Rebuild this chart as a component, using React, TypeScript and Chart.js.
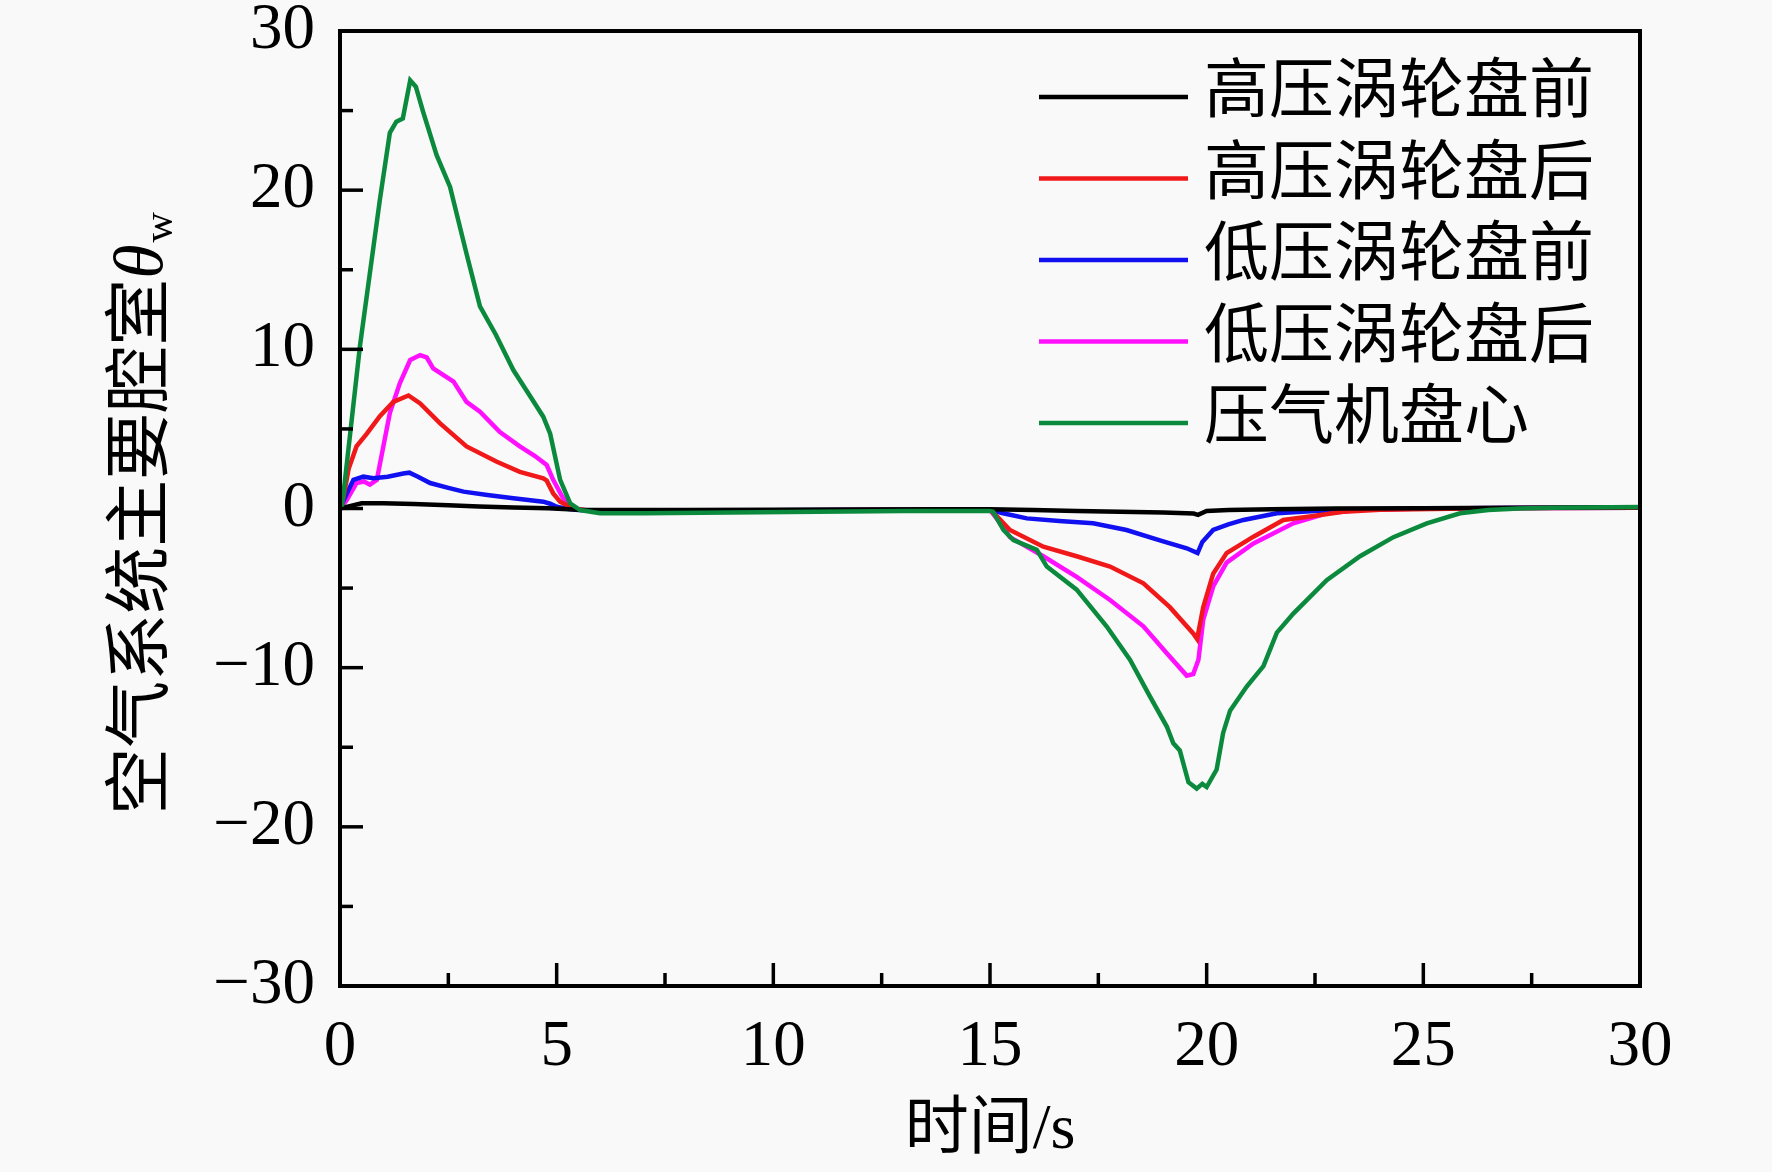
import React, { useEffect, useRef } from 'react';
import { Chart, registerables } from 'chart.js';

Chart.register(...registerables);

// ---------- data ----------
const X_MIN = 0;
const X_MAX = 30;
const X_STEP = 5;
const Y_MIN = -30;
const Y_MAX = 30;
const Y_STEP = 10;

const X_TITLE = '时间/s';
const Y_TITLE_MAIN = '空气系统主要腔室';
const Y_TITLE_SYMBOL = 'θ';
const Y_TITLE_SUB = 'w';

const SERIES_LABELS = ['高压涡轮盘前', '高压涡轮盘后', '低压涡轮盘前', '低压涡轮盘后', '压气机盘心'];

const tHpFront = [0, 0.15, 0.5, 1.0, 1.7, 2.5, 3.2, 4.0, 4.8, 5.5, 6.5, 8, 10, 12, 14, 15, 16, 17, 18, 19, 19.7, 19.8, 20.0, 20.5, 21.5, 23, 25, 27, 30];
const vHpFront = [0, 0.1, 0.33, 0.33, 0.28, 0.2, 0.12, 0.06, 0.01, -0.08, -0.1, -0.1, -0.08, -0.07, -0.05, -0.05, -0.1, -0.15, -0.2, -0.25, -0.32, -0.4, -0.15, -0.1, -0.05, 0, 0.02, 0.05, 0.08];

const tHpRear = [0, 0.08, 0.2, 0.38, 0.62, 0.92, 1.23, 1.58, 1.85, 2.31, 2.92, 3.62, 4.15, 4.69, 4.77, 4.92, 5.08, 5.38, 5.8, 6.5, 8, 10, 12, 14, 15, 15.2, 15.46, 16.23, 17.0, 17.77, 18.54, 19.15, 19.69, 19.78, 19.92, 20.15, 20.46, 21.08, 21.77, 22.38, 23.15, 24, 26, 28, 30];
const vHpRear = [0, 0.7, 2.5, 3.9, 4.7, 5.8, 6.7, 7.1, 6.6, 5.35, 3.9, 2.94, 2.3, 1.9, 1.75, 0.95, 0.43, 0, -0.15, -0.2, -0.15, -0.12, -0.1, -0.08, -0.08, -0.6, -1.35, -2.4, -3.0, -3.65, -4.7, -6.2, -7.85, -8.2, -6.2, -4.1, -2.8, -1.77, -0.72, -0.5, -0.2, -0.08, 0, 0.03, 0.05];

const tLpFront = [0, 0.08, 0.31, 0.54, 0.77, 1.1, 1.46, 1.6, 1.8, 2.08, 2.5, 2.85, 3.4, 4.0, 4.69, 4.85, 5.0, 5.2, 5.5, 6.0, 7, 9, 11, 13, 15, 15.3, 15.85, 16.6, 17.38, 18.15, 18.92, 19.54, 19.79, 19.9, 20.15, 20.5, 20.85, 21.62, 22.5, 23.5, 25, 27, 30];
const vLpFront = [0, 0.5, 1.8, 2.0, 1.9, 2.0, 2.2, 2.25, 2.0, 1.6, 1.3, 1.06, 0.85, 0.64, 0.43, 0.3, 0.11, 0, -0.1, -0.15, -0.15, -0.12, -0.1, -0.08, -0.08, -0.3, -0.62, -0.78, -0.93, -1.35, -2.0, -2.5, -2.8, -2.1, -1.35, -1.0, -0.72, -0.3, -0.15, -0.05, 0, 0.03, 0.05];

const tLpRear = [0, 0.15, 0.38, 0.55, 0.69, 0.85, 1.15, 1.38, 1.62, 1.85, 2.0, 2.15, 2.62, 2.92, 3.23, 3.69, 4.15, 4.5, 4.77, 4.92, 5.15, 5.38, 5.8, 6.5, 8, 10, 12, 14, 15, 15.2, 15.46, 16.23, 17.0, 17.77, 18.54, 19.08, 19.54, 19.69, 19.81, 19.92, 20.15, 20.46, 21.08, 22.0, 22.77, 23.5, 25, 27, 30];
const vLpRear = [0, 0.5, 1.6, 1.7, 1.5, 1.8, 6.0, 7.86, 9.33, 9.64, 9.5, 8.8, 7.97, 6.7, 6.08, 4.8, 3.9, 3.3, 2.73, 1.8, 0.64, 0, -0.15, -0.2, -0.15, -0.12, -0.1, -0.08, -0.08, -0.8, -1.8, -3.0, -4.3, -5.75, -7.4, -9.1, -10.5, -10.4, -9.5, -7.0, -4.9, -3.4, -2.2, -0.93, -0.3, -0.1, 0, 0.03, 0.05];

const tComp = [0, 0.05, 0.46, 0.92, 1.15, 1.3, 1.45, 1.62, 1.75, 1.92, 2.23, 2.54, 2.92, 3.23, 3.6, 4.0, 4.4, 4.69, 4.85, 5.08, 5.31, 5.54, 6.0, 7, 9, 11, 13, 15, 15.07, 15.31, 15.54, 16.08, 16.31, 17.0, 17.69, 18.23, 18.69, 19.08, 19.23, 19.38, 19.58, 19.77, 19.9, 20.0, 20.23, 20.38, 20.54, 20.92, 21.31, 21.62, 22.0, 22.77, 23.54, 24.31, 25.08, 25.85, 26.5, 27.2, 28, 30];
const vComp = [0, 0.2, 10.2, 19.4, 23.6, 24.3, 24.5, 26.9, 26.5, 24.9, 22.2, 20.2, 16.0, 12.7, 10.9, 8.7, 7.0, 5.77, 4.7, 1.8, 0.33, -0.1, -0.3, -0.3, -0.25, -0.2, -0.15, -0.15, -0.2, -1.35, -1.98, -2.6, -3.65, -5.1, -7.4, -9.5, -11.8, -13.7, -14.75, -15.2, -17.2, -17.6, -17.3, -17.5, -16.4, -14.1, -12.7, -11.2, -9.9, -7.8, -6.6, -4.5, -3.0, -1.8, -0.93, -0.3, -0.1, 0, 0.05, 0.1];

const SERIES_T = [tHpFront, tHpRear, tLpFront, tLpRear, tComp];
const SERIES_V = [vHpFront, vHpRear, vLpFront, vLpRear, vComp];

// ---------- styles ----------
const COLORS = ['#000000', '#f01818', '#1010f0', '#ff10ff', '#0b8a3e'];
const DRAW_ORDER = [1, 2, 3, 4, 0];
const BG = '#f9f9f9';
const SERIF = '"Liberation Serif", "Times New Roman", "Noto Sans CJK SC", serif';
const W = 1772;
const H = 1172;

const decorPlugin = {
  id: 'decor',
  beforeDraw(chart: any) {
    const ctx = chart.ctx;
    ctx.save();
    ctx.fillStyle = BG;
    ctx.fillRect(0, 0, chart.width, chart.height);
    ctx.restore();
  },
  afterDraw(chart: any) {
    const ctx = chart.ctx;
    const ca = chart.chartArea;
    const xs = chart.scales.x;
    const ys = chart.scales.y;
    ctx.save();
    // ticks (inward, with minor)
    ctx.strokeStyle = '#000';
    ctx.lineWidth = 3.5;
    ctx.lineCap = 'butt';
    for (let v = X_MIN; v <= X_MAX + 1e-9; v += X_STEP / 2) {
      const px = xs.getPixelForValue(v);
      const major = Math.abs(v / X_STEP - Math.round(v / X_STEP)) < 1e-6;
      const len = major ? 23 : 13;
      ctx.beginPath();
      ctx.moveTo(px, ca.bottom);
      ctx.lineTo(px, ca.bottom - len);
      ctx.stroke();
    }
    for (let v = Y_MIN; v <= Y_MAX + 1e-9; v += Y_STEP / 2) {
      const py = ys.getPixelForValue(v);
      const major = Math.abs(v / Y_STEP - Math.round(v / Y_STEP)) < 1e-6;
      const len = major ? 23 : 13;
      ctx.beginPath();
      ctx.moveTo(ca.left, py);
      ctx.lineTo(ca.left + len, py);
      ctx.stroke();
    }
    // frame
    ctx.lineWidth = 4;
    ctx.strokeRect(ca.left, ca.top, ca.right - ca.left, ca.bottom - ca.top);

    // legend
    const legendLineX0 = 1039;
    const legendLineX1 = 1188;
    const legendTextX = 1204;
    const legendY0 = 97;
    const legendDy = 81.5;
    ctx.font = `65px ${SERIF}`;
    ctx.textAlign = 'left';
    ctx.textBaseline = 'middle';
    chart.data.datasets.forEach((ds: any, i: number) => {
      const y = legendY0 + i * legendDy;
      ctx.strokeStyle = ds.borderColor;
      ctx.lineWidth = 4.5;
      ctx.beginPath();
      ctx.moveTo(legendLineX0, y);
      ctx.lineTo(legendLineX1, y);
      ctx.stroke();
      ctx.fillStyle = '#000';
      ctx.fillText(ds.label, legendTextX, y - 2);
    });

    // x title
    ctx.fillStyle = '#000';
    ctx.font = `64px ${SERIF}`;
    ctx.textAlign = 'center';
    ctx.textBaseline = 'middle';
    ctx.fillText(X_TITLE, (ca.left + ca.right) / 2, 1131);

    // y title (rotated)
    ctx.save();
    ctx.translate(138, (ca.top + ca.bottom) / 2 + 5);
    ctx.rotate(-Math.PI / 2);
    const mainFont = `67px ${SERIF}`;
    const symFont = `italic 70px ${SERIF}`;
    const subFont = `42px ${SERIF}`;
    ctx.font = mainFont;
    const w1 = ctx.measureText(Y_TITLE_MAIN).width;
    ctx.font = symFont;
    const w2 = ctx.measureText(Y_TITLE_SYMBOL).width;
    ctx.font = subFont;
    const w3 = ctx.measureText(Y_TITLE_SUB).width;
    const total = w1 + w2 + w3 + 2;
    let x = -total / 2;
    const base = 24;
    ctx.textAlign = 'left';
    ctx.textBaseline = 'alphabetic';
    ctx.font = mainFont;
    ctx.fillText(Y_TITLE_MAIN, x, base);
    x += w1;
    ctx.font = symFont;
    ctx.fillText(Y_TITLE_SYMBOL, x, base);
    x += w2 + 2;
    ctx.font = subFont;
    ctx.fillText(Y_TITLE_SUB, x, base + 10);
    ctx.restore();

    ctx.restore();
  },
};

export default function App() {
  const ref = useRef<HTMLCanvasElement | null>(null);
  useEffect(() => {
    if (!ref.current) return;
    const datasets = SERIES_LABELS.map((label, i) => ({
      label,
      data: SERIES_T[i].map((t, j) => ({ x: t, y: SERIES_V[i][j] })),
      borderColor: COLORS[i],
      backgroundColor: COLORS[i],
      borderWidth: 4.5,
      pointRadius: 0,
      tension: 0,
      fill: false,
      order: DRAW_ORDER[i],
    }));
    const chart = new Chart(ref.current, {
      type: 'line',
      data: { datasets },
      options: {
        animation: false,
        responsive: false,
        devicePixelRatio: 1,
        parsing: false,
        layout: { padding: { left: 0, top: 31, right: 132, bottom: 0 } },
        plugins: { legend: { display: false }, tooltip: { enabled: false }, title: { display: false } },
        scales: {
          x: {
            type: 'linear',
            min: X_MIN,
            max: X_MAX,
            grid: { display: false, drawTicks: false },
            border: { display: false },
            ticks: {
              stepSize: X_STEP,
              autoSkip: false,
              maxRotation: 0,
              padding: 23,
              color: '#000',
              font: { family: SERIF, size: 65 },
            },
            afterFit: (s: any) => {
              s.height = 186;
              s.paddingLeft = 0;
              s.paddingRight = 0;
            },
          },
          y: {
            type: 'linear',
            min: Y_MIN,
            max: Y_MAX,
            grid: { display: false, drawTicks: false },
            border: { display: false },
            ticks: {
              stepSize: Y_STEP,
              padding: 25,
              color: '#000',
              font: { family: SERIF, size: 65 },
              callback: (v: any) => (Number(v) < 0 ? '\u2212' + Math.abs(Number(v)) : String(v)),
            },
            afterFit: (s: any) => {
              s.width = 340;
              s.paddingTop = 0;
              s.paddingBottom = 0;
            },
          },
        },
      } as any,
      plugins: [decorPlugin],
    });
    return () => chart.destroy();
  }, []);
  return (
    <div style={{ position: 'fixed', left: 0, top: 0, width: W, height: H, background: BG }}>
      <canvas ref={ref} width={W} height={H} style={{ display: 'block', width: W, height: H }} />
    </div>
  );
}
